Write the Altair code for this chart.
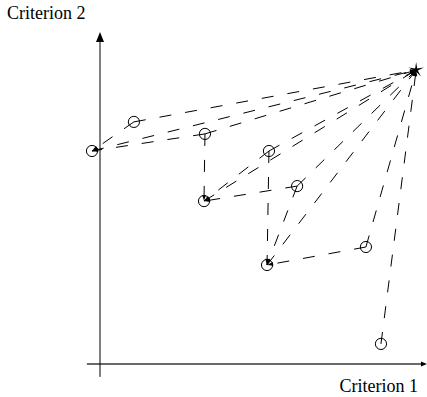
import math
import altair as alt
import pandas as pd

# Alternatives and their scores on the two criteria
names = ["A", "B", "C", "D", "E", "F", "G", "H", "I"]
crit1 = [-0.25, 1.06, 3.28, 3.25, 5.28, 6.16, 5.22, 8.31, 8.78]
crit2 = [7.10, 8.07, 7.67, 5.43, 7.10, 5.93, 3.30, 3.90, 0.67]

# Ideal point
ideal_name = ["S"]
ideal_c1 = [9.88]
ideal_c2 = [9.80]

# Directed comparisons (arrow drawn from -> to)
edge_from = ["B", "C", "A", "B", "C", "C", "E", "F", "D", "E", "E", "F", "F", "G", "H", "H", "I"]
edge_to = ["A", "A", "S", "S", "S", "D", "D", "D", "S", "S", "G", "S", "G", "S", "G", "S", "S"]

# Canvas geometry
W, H = 427, 397
PX_X, PX_Y = 32.0, 30.0          # pixels per criterion unit
OX, OY = 100.0, 364.0            # pixel position of the origin
X_DOM = [-OX / PX_X, (W - OX) / PX_X]
Y_DOM = [-(H - OY) / PX_Y, OY / PX_Y]

xs = alt.Scale(domain=X_DOM, nice=False, zero=False)
ys = alt.Scale(domain=Y_DOM, nice=False, zero=False)

pos = {n: (a, b) for n, a, b in zip(names, crit1, crit2)}
pos[ideal_name[0]] = (ideal_c1[0], ideal_c2[0])

rows = []
for f, t in zip(edge_from, edge_to):
    x1, y1 = pos[f]
    x2, y2 = pos[t]
    sdx = (x2 - x1) * PX_X
    sdy = -(y2 - y1) * PX_Y
    ang = math.degrees(math.atan2(sdx, -sdy)) % 360
    rows.append({"src": f, "dst": t, "x1": x1, "y1": y1, "x2": x2, "y2": y2, "ang": ang})
edges = pd.DataFrame(rows)

alts = pd.DataFrame({"name": names, "c1": crit1, "c2": crit2})
ideal = pd.DataFrame({"name": ideal_name, "c1": ideal_c1, "c2": ideal_c2})

# Dashed links
links = alt.Chart(edges).mark_rule(
    color="black", strokeWidth=1, strokeDash=[12, 14]
).encode(
    x=alt.X("x1:Q", scale=xs, axis=None),
    y=alt.Y("y1:Q", scale=ys, axis=None),
    x2="x2:Q",
    y2="y2:Q",
)

# Small arrowheads at the link targets
ARROW = "M0,0 L-0.3,1 L0.3,1 Z"
heads = alt.Chart(edges).mark_point(
    shape=ARROW, filled=True, color="black", size=150, opacity=1
).encode(
    x=alt.X("x2:Q", scale=xs, axis=None),
    y=alt.Y("y2:Q", scale=ys, axis=None),
    angle=alt.Angle("ang:Q", scale=None),
)

# Alternatives as open circles
circles = alt.Chart(alts).mark_point(
    shape="circle", filled=False, color="black", strokeWidth=1, size=125, opacity=1
).encode(
    x=alt.X("c1:Q", scale=xs, axis=None),
    y=alt.Y("c2:Q", scale=ys, axis=None),
)

# Ideal point as a thin star
pts = []
for k in range(10):
    r = 1.0 if k % 2 == 0 else 0.22
    a = math.radians(-90 + 36 * k)
    pts.append(f"{r * math.cos(a):.3f},{r * math.sin(a):.3f}")
STAR = "M" + " L".join(pts) + " Z"
star = alt.Chart(ideal).mark_point(
    shape=STAR, filled=True, color="black", size=260, opacity=1
).encode(
    x=alt.X("c1:Q", scale=xs, axis=None),
    y=alt.Y("c2:Q", scale=ys, axis=None),
)

# Axes drawn as arrows
axis_lines = pd.DataFrame({
    "x1": [-0.41, 0.0], "y1": [0.0, -0.43],
    "x2": [10.03, 0.0], "y2": [0.0, 10.73],
    "col": ["#6a6a6a", "black"], "w": [2.0, 1.0],
})
axes = alt.Chart(axis_lines).mark_rule().encode(
    x=alt.X("x1:Q", scale=xs, axis=None),
    y=alt.Y("y1:Q", scale=ys, axis=None),
    x2="x2:Q",
    y2="y2:Q",
    color=alt.Color("col:N", scale=None),
    strokeWidth=alt.StrokeWidth("w:Q", scale=None),
)
axis_tips = pd.DataFrame({"x": [10.22, 0.0], "y": [0.0, 11.07], "ang": [90, 0], "s": [150, 400]})
tips = alt.Chart(axis_tips).mark_point(
    shape="M0,0 L-0.4,1 L0.4,1 Z", filled=True, color="black", opacity=1
).encode(
    x=alt.X("x:Q", scale=xs, axis=None),
    y=alt.Y("y:Q", scale=ys, axis=None),
    angle=alt.Angle("ang:Q", scale=None),
    size=alt.Size("s:Q", scale=None),
)

FONT = "Liberation Serif"
ylab = alt.Chart(pd.DataFrame({"t": ["Criterion 2"]})).mark_text(
    font=FONT, fontSize=18, align="left", baseline="alphabetic", color="black"
).encode(text="t:N", x=alt.value(7), y=alt.value(19))
xlab = alt.Chart(pd.DataFrame({"t": ["Criterion 1"]})).mark_text(
    font=FONT, fontSize=18, align="right", baseline="alphabetic", color="black"
).encode(text="t:N", x=alt.value(418), y=alt.value(392))

chart = alt.layer(axes, tips, links, heads, circles, star, ylab, xlab).properties(
    width=W, height=H, padding=0, autosize=alt.AutoSizeParams(type="none"),
    background="white",
).configure_view(stroke=None)

chart.save("out.html", embed_options={"renderer": "svg", "actions": False})
